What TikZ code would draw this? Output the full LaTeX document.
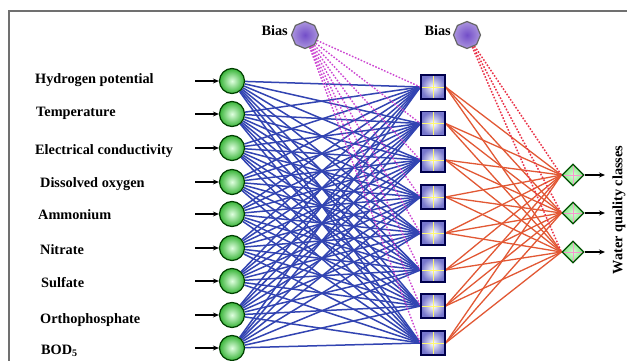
\documentclass[tikz,border=0pt]{standalone}
\usepackage{fontspec}
\setmainfont{Liberation Serif}
\usetikzlibrary{shapes.geometric,arrows.meta}
\pgfdeclarelayer{bg}
\pgfdeclarelayer{canvas}
\pgfsetlayers{canvas,bg,main}
\definecolor{nblue}{RGB}{50,68,178}
\definecolor{norange}{RGB}{226,88,52}
\definecolor{nmag}{RGB}{205,70,210}
\definecolor{nred}{RGB}{234,50,72}
\definecolor{ngreen}{RGB}{56,180,56}
\definecolor{nlav}{RGB}{118,118,205}
\definecolor{npurple}{RGB}{115,78,200}
\definecolor{frmgray}{RGB}{112,112,112}
\tikzset{
  lbl/.style={anchor=west, inner sep=0pt, font=\fontsize{14.3}{16}\selectfont\bfseries},
  inp/.style={circle, minimum size=25pt, inner sep=0pt, draw=black!75!green, line width=1.2pt,
    inner color=green!12!white, outer color=ngreen},
  hid/.style={rectangle, minimum size=24pt, inner sep=0pt, draw=black!70!blue, line width=1.2pt,
    inner color=white, outer color=nlav,
    path picture={\draw[yellow!55!white, line width=0.8pt]
      (path picture bounding box.north) -- (path picture bounding box.south)
      (path picture bounding box.west) -- (path picture bounding box.east);}},
  outn/.style={diamond, minimum size=22pt, inner sep=0pt, draw=black!70!green, line width=1.2pt,
    inner color=green!15!white, outer color=green!45!white!90!black,
    path picture={\draw[magenta!40!white, line width=0.6pt]
      (path picture bounding box.north) -- (path picture bounding box.south)
      (path picture bounding box.west) -- (path picture bounding box.east);}},
  biasn/.style={regular polygon, regular polygon sides=8, shape border rotate=22.5,
    minimum size=27pt, inner sep=0pt,
    draw=black!60, line width=1.2pt, inner color=npurple, outer color=npurple!60!white},
  inarrow/.style={-{Stealth[length=6pt,width=5pt]}, line width=1.1pt, black},
  blueline/.style={nblue, line width=1.5pt},
  orangeline/.style={norange, line width=1.3pt},
  magdot/.style={nmag, line width=1.4pt, dash pattern=on 1.6pt off 1.6pt},
  reddot/.style={nred, line width=1.5pt, dash pattern=on 1.6pt off 1.6pt},
}
\begin{document}
\begin{tikzpicture}[x=1pt,y=-1pt]
\useasboundingbox (0,0) rectangle (627,361);
\begin{pgfonlayer}{canvas}
\fill[white] (0,0) rectangle (627,361);
\draw[frmgray, line width=2pt] (9,362) -- (9,11) -- (628,11);
\end{pgfonlayer}

% inputs
\foreach \y [count=\i] in {81,114,148,182,214,248,281,315,348} {
  \node[inp] (i\i) at (232,\y) {};
  \coordinate (a\i) at (195,\y);
  \draw[inarrow] (a\i) -- (i\i);
}
\node[lbl] (l1) at (35,80) {Hydrogen potential};
\node[lbl] (l2) at (36,113) {Temperature};
\node[lbl] (l3) at (35,151) {Electrical conductivity};
\node[lbl] (l4) at (40,184) {Dissolved oxygen};
\node[lbl] (l5) at (38,215) {Ammonium};
\node[lbl] (l6) at (40,250) {Nitrate};
\node[lbl] (l7) at (41,283) {Sulfate};
\node[lbl] (l8) at (40,320) {Orthophosphate};
\node[lbl] (l9) at (41,351) {BOD\textsubscript{5}};

% hidden
\foreach \y [count=\j] in {87,123.5,160,197,233,270,306,343} {
  \node[hid] (h\j) at (433,\y) {};
}

% outputs
\foreach \y [count=\k] in {175,213,252} {
  \node[outn] (o\k) at (573,\y) {};
  \coordinate (oa\k) at (605,\y);
  \draw[inarrow] (o\k.east) -- (oa\k);
}
\node[lbl, anchor=center, rotate=90] (wq) at (619,210) {Water quality classes};

% bias
\node[biasn] (b1) at (305,35) {};
\node[lbl, anchor=east] (bl1) at (288,31) {Bias};
\node[biasn] (b2) at (467,35) {};
\node[lbl, anchor=east] (bl2) at (451,31) {Bias};

\begin{pgfonlayer}{bg}
\foreach \i in {1,...,9} {
  \foreach \j in {1,...,8} {
    \draw[blueline] (i\i) -- (h\j.west);
  }
}
\foreach \j in {1,...,8} {
  \foreach \k in {1,2,3} {
    \draw[orangeline] (h\j.east) -- (o\k.west);
  }
  \draw[magdot] (b1) -- (h\j.west);
}
\foreach \k in {1,2,3} {
  \draw[reddot] (b2) -- (o\k.west);
}
\end{pgfonlayer}
\end{tikzpicture}
\end{document}
